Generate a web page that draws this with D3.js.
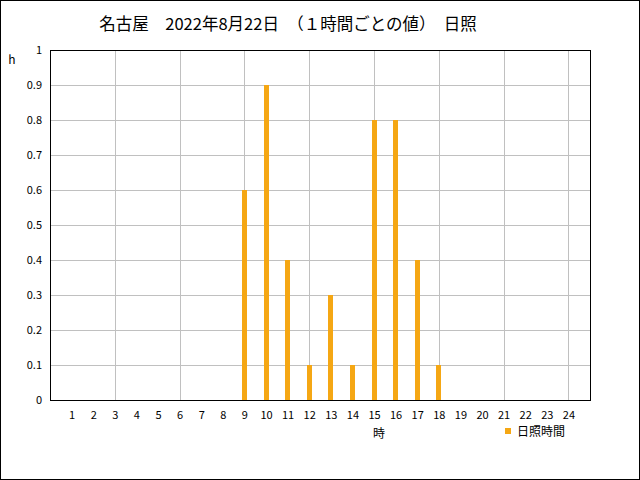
<!DOCTYPE html>
<html>
<head>
<meta charset="utf-8">
<script src="https://cdn.jsdelivr.net/npm/d3@7"></script>
<style>
  body { margin: 0; background: #fff; }
  svg { display: block; }
  text { font-family: "Noto Sans CJK JP", "DejaVu Sans", sans-serif; fill: #000; }
</style>
</head>
<body>
<div class="chart"></div>
<script>
const title = '名古屋　2022年8月22日　（１時間ごとの値）　日照';
const hours = d3.range(1, 25);
const sunshine = [0, 0, 0, 0, 0, 0, 0, 0, 0.6, 0.9, 0.4, 0.1, 0.3, 0.1, 0.8, 0.8, 0.4, 0.1, 0, 0, 0, 0, 0, 0];
const yTicks = d3.range(0, 11).map((i) => i / 10);
const xGrid = [3, 6, 9, 12, 15, 18, 21, 24];
const seriesName = '日照時間';
const barColor = '#f5a714';

const W = 640;
const H = 480;
const margin = { top: 50, right: 50, bottom: 80, left: 50 };
const width = W - margin.left - margin.right;
const height = H - margin.top - margin.bottom;

const svg = d3.select('.chart')
  .append('svg')
  .attr('width', W)
  .attr('height', H);

// outer frame
svg.append('rect')
  .attr('x', 0.5).attr('y', 0.5)
  .attr('width', W - 1).attr('height', H - 1)
  .attr('fill', 'none').attr('stroke', '#000');

svg.append('text')
  .attr('x', 288).attr('y', 30)
  .attr('text-anchor', 'middle')
  .style('font-size', '16.5px')
  .text(title);

const g = svg.append('g')
  .attr('transform', `translate(${margin.left},${margin.top})`);

const x = d3.scaleLinear().domain([0, 25]).range([0, width]);
const y = d3.scaleLinear().domain([0, 1]).range([height, 0]);

// grid
g.selectAll('.hgrid')
  .data(yTicks.slice(1, -1))
  .enter()
  .append('line')
  .attr('x1', 0).attr('x2', width)
  .attr('y1', (d) => Math.round(y(d)) + 0.5)
  .attr('y2', (d) => Math.round(y(d)) + 0.5)
  .attr('stroke', '#c0c0c0');

g.selectAll('.vgrid')
  .data(xGrid)
  .enter()
  .append('line')
  .attr('x1', (d) => Math.round(x(d)) + 0.5)
  .attr('x2', (d) => Math.round(x(d)) + 0.5)
  .attr('y1', 0).attr('y2', height)
  .attr('stroke', '#c0c0c0');

// bars
const barW = 5;
g.selectAll('.bar')
  .data(sunshine.map((v, i) => ({ h: hours[i], v })).filter((d) => d.v > 0))
  .enter()
  .append('rect')
  .attr('x', (d) => Math.round(x(d.h) - barW / 2))
  .attr('y', (d) => y(d.v))
  .attr('width', barW)
  .attr('height', (d) => height - y(d.v))
  .attr('fill', barColor);

// plot border
g.append('rect')
  .attr('x', 0.5).attr('y', 0.5)
  .attr('width', width).attr('height', height)
  .attr('fill', 'none').attr('stroke', '#000');

// axes
const yAxis = g.append('g')
  .call(d3.axisLeft(y).tickValues(yTicks).tickSize(0).tickPadding(8)
    .tickFormat((d) => (d === 0 || d === 1 ? d3.format('d')(d) : d3.format('.1f')(d))));
yAxis.select('.domain').remove();
yAxis.selectAll('text').style('font-size', '11px').style('font-family', '"Noto Sans CJK JP", sans-serif');

const xAxis = g.append('g')
  .attr('transform', `translate(0,${height})`)
  .call(d3.axisBottom(x).tickValues(hours).tickSize(0).tickPadding(11).tickFormat(d3.format('d')));
xAxis.select('.domain').remove();
xAxis.selectAll('text').style('font-size', '11px').style('font-family', '"Noto Sans CJK JP", sans-serif');

svg.append('text')
  .attr('x', 12).attr('y', 64)
  .attr('text-anchor', 'middle')
  .style('font-size', '12px')
  .text('h');

svg.append('text')
  .attr('x', 379).attr('y', 438)
  .attr('text-anchor', 'middle')
  .style('font-size', '12px')
  .text('時');

// legend
svg.append('rect')
  .attr('x', 505).attr('y', 428)
  .attr('width', 6).attr('height', 6)
  .attr('fill', barColor);
svg.append('text')
  .attr('x', 517).attr('y', 436)
  .style('font-size', '12px')
  .text(seriesName);
</script>
</body>
</html>
